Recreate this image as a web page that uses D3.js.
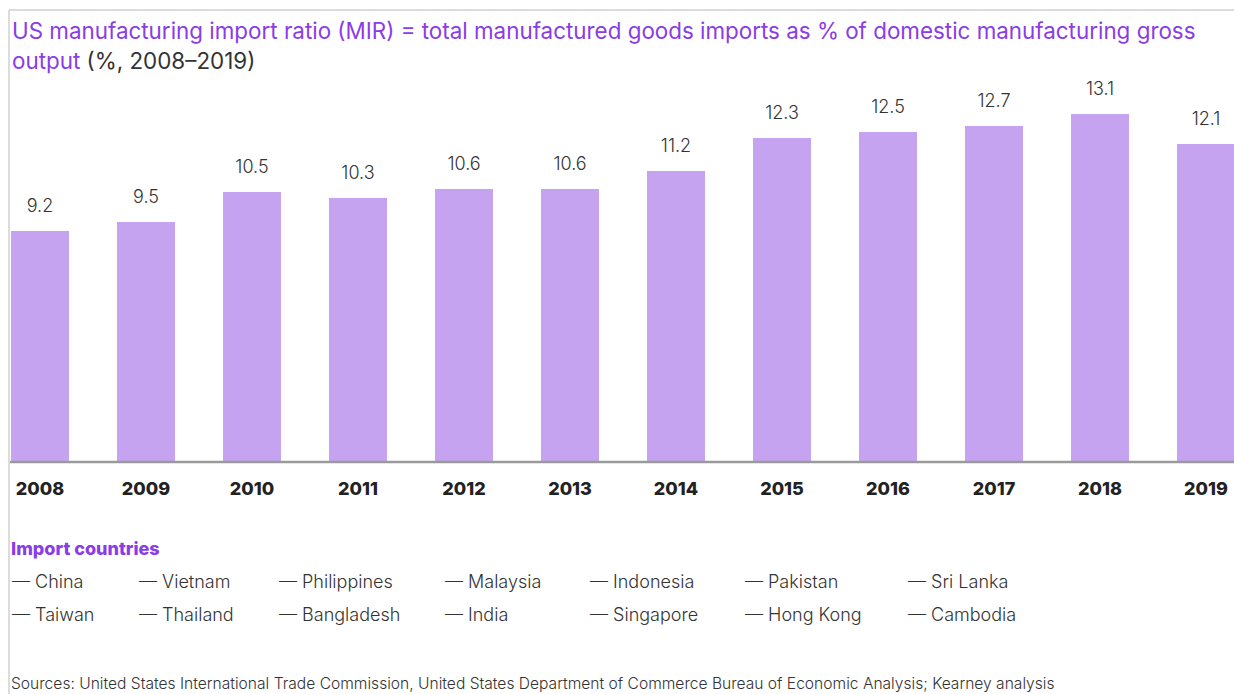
<!DOCTYPE html>
<html><head><meta charset="utf-8">
<script src="https://cdn.jsdelivr.net/npm/d3@7"></script>
<style>
html,body{margin:0;padding:0;background:#fff;}
svg{display:block;font-family:Inter, "Noto Sans", sans-serif;}
</style></head>
<body>
<svg id="chart" width="1234" height="694"></svg>
<script>
const years = ["2008","2009","2010","2011","2012","2013","2014","2015","2016","2017","2018","2019"];
const mirValues = [9.2, 9.5, 10.5, 10.3, 10.6, 10.6, 11.2, 12.3, 12.5, 12.7, 13.1, 12.1];
const legendRow1 = ["China","Vietnam","Philippines","Malaysia","Indonesia","Pakistan","Sri Lanka"];
const legendRow2 = ["Taiwan","Thailand","Bangladesh","India","Singapore","Hong Kong","Cambodia"];
const titleLine1 = "US manufacturing import ratio (MIR) = total manufactured goods imports as % of domestic manufacturing gross";
const titleLine2a = "output";
const titleLine2b = " (%, 2008–2019)";
const legendTitle = "Import countries";
const sourceText = "Sources: United States International Trade Commission, United States Department of Commerce Bureau of Economic Analysis; Kearney analysis";

const svg = d3.select("#chart");
const purple = "#8a3ce6";
const barColor = "#c5a3f0";

// frame
svg.append("line").attr("x1",9).attr("x2",1234).attr("y1",10).attr("y2",10).attr("stroke","#dcdcdc").attr("stroke-width",2);
svg.append("line").attr("x1",9).attr("x2",9).attr("y1",10).attr("y2",694).attr("stroke","#dcdcdc").attr("stroke-width",2);

// title
svg.append("text").attr("x",12).attr("y",39).attr("font-size",22.4).attr("fill",purple).attr("font-weight",400).text(titleLine1);
const t2 = svg.append("text").attr("x",12).attr("y",69).attr("font-size",22.4).attr("font-weight",400);
t2.append("tspan").attr("fill",purple).text(titleLine2a);
t2.append("tspan").attr("fill","#333").text(titleLine2b);

// scales
const x = d3.scaleBand().domain(years).range([11, 1235]).paddingInner(0.453).paddingOuter(0);
const y = d3.scaleLinear().domain([1.5, 13.1]).range([462, 114]);

const data = years.map((yr,i)=>({year:yr, value:mirValues[i]}));

svg.append("g").selectAll("rect").data(data).join("rect")
  .attr("x",d=>x(d.year)).attr("width",x.bandwidth())
  .attr("y",d=>y(d.value)).attr("height",d=>462-y(d.value))
  .attr("fill",barColor);

svg.append("g").selectAll("text").data(data).join("text")
  .attr("x",d=>x(d.year)+x.bandwidth()/2).attr("y",d=>y(d.value)-19)
  .attr("text-anchor","middle").attr("font-size",18).attr("fill","#333").attr("font-weight",300)
  .text(d=>d.value.toFixed(1));

// x axis
const xAxis = svg.append("g").attr("transform","translate(0,462)")
  .call(d3.axisBottom(x).tickSize(0).tickPadding(0));
xAxis.select(".domain").attr("d","M10,0H1234").attr("stroke","#9a9a9a").attr("stroke-width",2.5);
xAxis.selectAll("text").attr("y",33).attr("dy",0).attr("font-size",18).attr("font-weight",800)
  .attr("fill","#222").attr("font-family","Inter, 'Noto Sans', sans-serif");

// legend
svg.append("text").attr("x",11).attr("y",555).attr("font-size",18).attr("font-weight",800).attr("fill",purple).text(legendTitle);
const colX = [12, 139, 279, 445, 590, 745, 908];
[legendRow1, legendRow2].forEach((row,ri)=>{
  svg.append("g").selectAll("text").data(row).join("text")
    .attr("x",(d,i)=>colX[i]).attr("y",588+ri*33)
    .attr("font-size",18).attr("font-weight",300).attr("fill","#333")
    .text(d=>"— "+d);
});

svg.append("text").attr("x",11).attr("y",689).attr("font-size",15.6).attr("font-weight",300).attr("fill","#333").text(sourceText);
</script>
</body></html>
